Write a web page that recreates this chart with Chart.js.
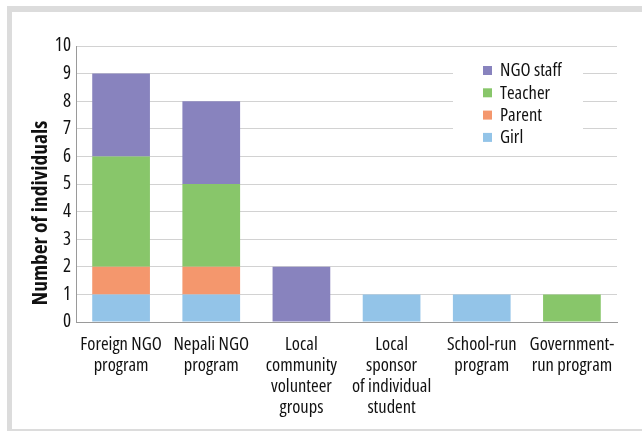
<!DOCTYPE html>
<html>
<head>
<meta charset="utf-8">
<script src="https://cdn.jsdelivr.net/npm/chart.js@4"></script>
<style>
    html, body { margin: 0; padding: 0; background: #fff; overflow: hidden; }
    #frame {
        position: absolute; left: 7px; top: 6px; width: 630px; height: 417px;
        border-left: 5px solid #dcdcdc; border-top: 6px solid #dcdcdc; border-bottom: 3px solid #dcdcdc;
    }
    #wrap { position: absolute; left: 0; top: 0; width: 642px; height: 431px; }
</style>
</head>
<body>
<div id="frame"></div>
<div id="wrap"><canvas id="chart" width="642" height="431"></canvas></div>
<script>
// ========================================
// DATA
// ========================================

const categories = [
    ['Foreign NGO', 'program'],
    ['Nepali NGO', 'program'],
    ['Local', 'community', 'volunteer', 'groups'],
    ['Local', 'sponsor', 'of individual', 'student'],
    ['School-run', 'program'],
    ['Government-', 'run program']
];

const girl     = [1, 1, 0, 1, 1, 0];
const parent   = [1, 1, 0, 0, 0, 0];
const teacher  = [4, 3, 0, 0, 0, 1];
const ngoStaff = [3, 3, 2, 0, 0, 0];

const yTicks = [0, 10, 1];   // min, max, step
const yTitle = 'Number of individuals';

// Open Sans in its condensed width is the closest match to the original face
const FONT = "'Open Sans', sans-serif";

// ========================================
// PLUGINS
// ========================================

// Legend drawn inside the plot, top right, on a white patch
const insideLegend = {
    id: 'insideLegend',
    afterDraw(chart) {
        const ctx = chart.ctx;
        ctx.save();
        ctx.fillStyle = '#fff';
        ctx.fillRect(453, 55, 130, 95);
        const sets = chart.data.datasets.slice().reverse();
        ctx.font = 'condensed 18.5px ' + FONT;
        ctx.textBaseline = 'middle';
        sets.forEach((ds, i) => {
            const y = 70 + i * 22.3;
            ctx.fillStyle = ds.backgroundColor;
            ctx.fillRect(483, y - 4, 9, 9);
            ctx.fillStyle = '#111';
            ctx.fillText(ds.label, 500, y + 1);
        });
        ctx.restore();
    }
};

// Y axis title, centred on the whole picture height
const yTitlePlugin = {
    id: 'yTitlePlugin',
    afterDraw(chart) {
        const ctx = chart.ctx;
        ctx.save();
        ctx.translate(41, 213);
        ctx.rotate(-Math.PI / 2);
        ctx.font = 'bold condensed 21.5px ' + FONT;
        ctx.fillStyle = '#111';
        ctx.textAlign = 'center';
        ctx.textBaseline = 'middle';
        ctx.fillText(yTitle, 0, 0);
        ctx.restore();
    }
};

// ========================================
// CHART
// ========================================

function makeSet(label, data, color) {
    return {
        label: label,
        data: data,
        backgroundColor: color,
        borderWidth: 0,
        barPercentage: 0.64,
        categoryPercentage: 1.0
    };
}

new Chart(document.getElementById('chart'), {
    type: 'bar',
    data: {
        labels: categories,
        datasets: [
            makeSet('Girl', girl, '#93c4e8'),
            makeSet('Parent', parent, '#f4976d'),
            makeSet('Teacher', teacher, '#88c66a'),
            makeSet('NGO staff', ngoStaff, '#8883be')
        ]
    },
    options: {
        responsive: false,
        animation: false,
        devicePixelRatio: 1,
        layout: { padding: { left: 0, top: 46, right: 25, bottom: 0 } },
        plugins: {
            legend: { display: false },
            tooltip: { enabled: false }
        },
        scales: {
            x: {
                stacked: true,
                grid: { display: false },
                border: { color: '#9a9a9a', width: 1 },
                ticks: {
                    color: '#111',
                    // weight slot carries the font-stretch keyword into the canvas font string
                    font: { family: FONT, size: 18.5, weight: 'condensed', lineHeight: 1.14 },
                    padding: 4,
                    maxRotation: 0,
                    autoSkip: false
                },
                afterFit(scale) { scale.height = 109; }
            },
            y: {
                stacked: true,
                min: yTicks[0],
                max: yTicks[1],
                grid: { color: '#d2d2d2', drawTicks: false },
                border: { color: '#9a9a9a', width: 1 },
                ticks: {
                    stepSize: yTicks[2],
                    color: '#111',
                    font: { family: FONT, size: 19, weight: 'condensed' },
                    padding: 5
                },
                afterFit(scale) { scale.width = 76; }
            }
        }
    },
    plugins: [insideLegend, yTitlePlugin]
});
</script>
</body>
</html>
